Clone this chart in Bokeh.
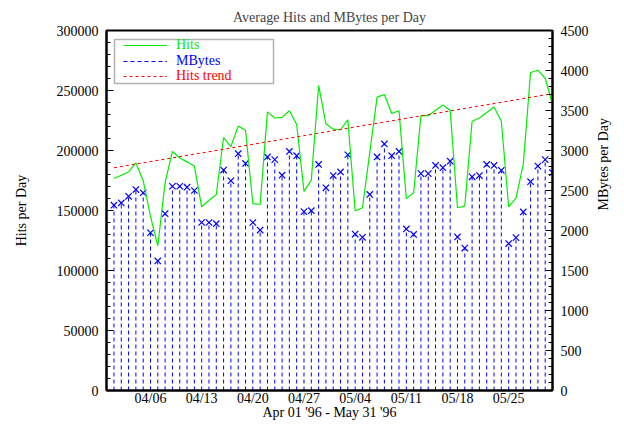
import math
import pandas as pd
from bokeh.plotting import figure
from bokeh.models import (Range1d, LinearAxis, FixedTicker, Legend, LegendItem,
                          BoxAnnotation, BasicTickFormatter)
from bokeh.embed import file_html
from bokeh.resources import INLINE

# ---------------- data ----------------
dates = pd.date_range("1996-04-01", "1996-05-31", freq="D")
hits = [176700, 179400, 182100, 189700, 174800, 145000, 120600, 173400, 199200, 193800,
        190500, 187000, 153100, 158500, 163100, 210800, 203300, 220300, 216800, 155800,
        155000, 232200, 227100, 227600, 233100, 221700, 165900, 175300, 254200, 222200,
        217800, 217300, 225500, 149600, 152300, 198400, 244500, 246600, 230900, 233100,
        159900, 164800, 229000, 229000, 233600, 238000, 233600, 152300, 153700, 224400,
        227100, 231700, 236300, 224400, 153100, 160400, 188400, 265000, 266900, 260200,
        238500]
mbytes = [2317, 2345, 2427, 2512, 2472, 1972, 1620, 2210, 2553, 2553,
          2541, 2500, 2100, 2100, 2085, 2756, 2622, 2960, 2838, 2100,
          2005, 2919, 2886, 2691, 2988, 2935, 2236, 2248, 2826, 2533,
          2687, 2732, 2947, 1955, 1915, 2451, 2919, 3082, 2935, 2988,
          2020, 1951, 2711, 2711, 2813, 2785, 2866, 1919, 1780, 2671,
          2687, 2826, 2813, 2752, 1837, 1911, 2232, 2610, 2805, 2886,
          2723]
trend_dates = ["1996-04-01", "1996-05-31"]
trend_hits = [185600, 247400]
tick_dates = ["1996-04-06", "1996-04-13", "1996-04-20", "1996-04-27",
              "1996-05-04", "1996-05-11", "1996-05-18", "1996-05-25"]
tick_labels = ["04/06", "04/13", "04/20", "04/27", "05/04", "05/11", "05/18", "05/25"]
hits_ticks = list(range(0, 300001, 50000))
hits_minor = list(range(0, 300001, 10000))
mb_ticks = list(range(0, 4501, 500))
mb_minor = list(range(0, 4501, 100))

start = dates[0]
day = [(d - start).days for d in dates]
trend_day = [(pd.Timestamp(d) - start).days for d in trend_dates]
tick_day = [(pd.Timestamp(d) - start).days for d in tick_dates]

FONT = "Liberation Serif"
FS = "14px"
GREEN = "#00ee00"
BLUE = "#0000ff"
RED = "#ff0000"

p = figure(frame_width=446, height=422,
           min_border_left=106, min_border_right=60, min_border_top=30, min_border_bottom=20,
           x_range=Range1d(-1.02, 60), y_range=Range1d(0, 300000),
           output_backend="svg", toolbar_location=None,
           title="Average Hits and MBytes per Day")
p.extra_y_ranges = {"mb": Range1d(0, 4500)}
p.grid.visible = False
p.outline_line_color = "black"
p.outline_line_width = 2
p.background_fill_color = "white"
p.border_fill_color = "white"

p.title.align = "center"
p.title.text_font = FONT
p.title.text_font_size = FS
p.title.text_font_style = "normal"
p.title.standoff = 11

# impulses (MBytes)
p.segment(x0=day, y0=0, x1=day, y1=mbytes, y_range_name="mb",
          line_color=BLUE, line_width=1, line_dash="4 3")
p.scatter(x=day, y=mbytes, y_range_name="mb", marker="x", size=9,
          line_color=BLUE, line_width=1.2)
# hits
p.line(x=day, y=hits, line_color=GREEN, line_width=1.2)
# trend
r_trend = p.line(x=trend_day, y=trend_hits, line_color=RED, line_width=1.2, line_dash="3 3")

# legend-only proxies (NaN y, so nothing is drawn in the plot) carrying the sample styles
nan_y = [float("nan")] * len(trend_day)
lg_hits = p.line(x=trend_day, y=nan_y, line_color=GREEN, line_width=1.2)
lg_mb = p.line(x=trend_day, y=nan_y, line_color=BLUE, line_width=1, line_dash="4 3")

# axes
xa = p.xaxis[0]
xa.ticker = FixedTicker(ticks=tick_day)
xa.major_label_overrides = {d: l for d, l in zip(tick_day, tick_labels)}
xa.major_tick_in = 0
xa.major_tick_out = 0
xa.minor_tick_in = 0
xa.minor_tick_out = 0
xa.major_label_standoff = 0
xa.axis_label = "Apr 01 '96 - May 31 '96"
xa.axis_label_standoff = -4

ya = p.yaxis[0]
ya.ticker = FixedTicker(ticks=hits_ticks, minor_ticks=hits_minor)
ya.formatter = BasicTickFormatter(use_scientific=False)
ya.axis_label = "Hits per Day"
ya.axis_label_standoff = 25

ra = LinearAxis(y_range_name="mb", ticker=FixedTicker(ticks=mb_ticks, minor_ticks=mb_minor),
                formatter=BasicTickFormatter(use_scientific=False),
                axis_label="MBytes per Day")
ra.axis_label_standoff = 12
ra.axis_label_orientation = math.pi / 2
p.add_layout(ra, "right")

for a in (ya, ra):
    a.major_tick_in = 7
    a.major_tick_out = 0
    a.minor_tick_in = 4
    a.minor_tick_out = 0
    a.major_label_standoff = 8
for a in (xa, ya, ra):
    a.axis_line_width = 2
    a.axis_line_color = "black"
    a.major_tick_line_color = "black"
    a.minor_tick_line_color = "black"
    a.major_label_text_font = FONT
    a.major_label_text_font_size = FS
    a.major_label_text_color = "black"
    a.axis_label_text_font = FONT
    a.axis_label_text_font_size = FS
    a.axis_label_text_font_style = "normal"
    a.axis_label_text_color = "black"

# legend: three single-item legends (coloured labels) + box; offsets from frame bottom
FB = 390  # expected frame bottom (px from top)
rows = [("Hits", lg_hits, GREEN, 46), ("MBytes", lg_mb, BLUE, 61.5), ("Hits trend", r_trend, RED, 76.5)]
for lbl, rend, col, cy in rows:
    lg = Legend(items=[LegendItem(label=lbl, renderers=[rend])],
                location=(17, FB - cy - 7), padding=0, margin=0, spacing=0,
                glyph_width=44, glyph_height=14, label_height=14, label_standoff=9,
                border_line_color=None, background_fill_alpha=0,
                label_text_font=FONT, label_text_font_size=FS, label_text_color=col)
    p.add_layout(lg, "center")
p.add_layout(BoxAnnotation(left=8, right=167, top=FB - 39, bottom=FB - 83,
                           left_units="screen", right_units="screen",
                           top_units="screen", bottom_units="screen",
                           fill_alpha=0, line_color="black", line_width=1.5))

open("out.html", "w").write(file_html(p, INLINE))
